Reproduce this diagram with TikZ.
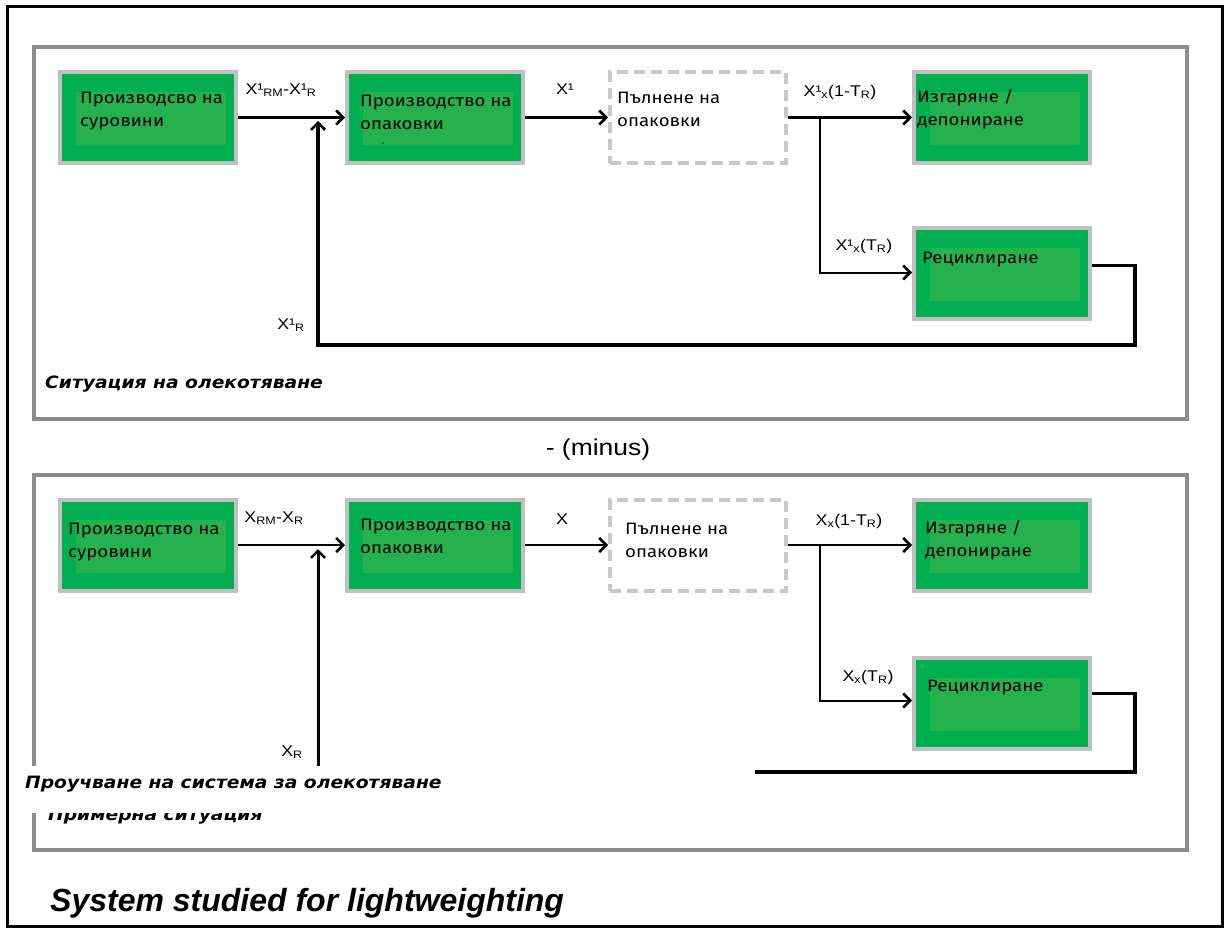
\documentclass[tikz,border=0pt]{standalone}
\usepackage{fontspec}
\setmainfont{Liberation Sans}
\newfontfamily\boxfont[FakeStretch=1.13]{Fira Sans}
\newfontfamily\lblfont[FakeStretch=1.15]{Liberation Sans}
\newfontfamily\capfont[FakeStretch=1.1]{DejaVu Sans}
\usetikzlibrary{arrows.meta}
\definecolor{gfill}{HTML}{00B050}
\definecolor{ginner}{HTML}{24B14E}
\definecolor{boxgray}{HTML}{C0C0C0}
\definecolor{dashgray}{HTML}{C8C8C8}
\definecolor{panelgray}{HTML}{8C8C8C}
\tikzset{
  gbox/.style={draw=boxgray, line width=4pt, fill=gfill, minimum width=176pt, minimum height=91pt, inner sep=0pt},
  dbox/.style={draw=dashgray, line width=4pt, fill=white, dash pattern=on 11pt off 6pt, minimum width=176pt, minimum height=91pt, inner sep=0pt},
  panel/.style={draw=panelgray, line width=4pt},
  btxt/.style={font=\boxfont\fontsize{16.5}{23}\selectfont, align=left, anchor=north west, inner sep=0pt},
  lbl/.style={font=\lblfont\fontsize{15.5}{17}\selectfont, inner sep=0pt},
  captxt/.style={font=\capfont\bfseries\itshape\fontsize{17}{20}\selectfont, inner sep=0pt, anchor=base west},
  arr/.style={line width=2.6pt, -{Straight Barb[length=7pt,width=14pt,line width=2.6pt]}},
  thinarr/.style={line width=2pt, -{Straight Barb[length=7pt,width=14pt,line width=2.6pt]}},
  fb/.style={line width=3.5pt},
}
\newcommand{\innerfill}[1]{\fill[ginner] ([xshift=18pt,yshift=-22pt]#1.north west) rectangle ([xshift=-12pt,yshift=20pt]#1.south east);}
\begin{document}
\begin{tikzpicture}[x=1pt,y=-1pt]
\fill[white] (0,0) rectangle (1225,928);
\useasboundingbox (0,0) rectangle (1225,928);
\draw[line width=3pt] (7,7) rectangle (1222,926);

% ---------- top panel ----------
\draw[panel] (34,47) rectangle (1187,419);
\node[gbox] (a1) at (148,117.5) {};
\node[gbox] (b1) at (435,117.5) {};
\node[dbox] (c1) at (698,117.5) {};
\node[gbox] (d1) at (1002,117.5) {};
\node[gbox] (e1) at (1002,273.5) {};
\innerfill{a1}\innerfill{b1}\innerfill{d1}\innerfill{e1}
\node[btxt] (a1t) at (80,92) {Производсво на\\суровини};
\node[btxt] (b1t) at (360,95) {Производство на\\опаковки};
\node[inner sep=0pt, font=\fontsize{12}{12}\selectfont] (b1dot) at (383,144) {.};
\node[btxt] (c1t) at (617,92) {Пълнене на\\опаковки};
\node[btxt] (d1t) at (917,89) {Изгаряне /\\депониране};
\node[btxt] (e1t) at (922,252) {Рециклиране};

\coordinate (s1) at (820,117.5);
\coordinate (k1) at (1135,345);
\coordinate (j1) at (318,345);
\coordinate (m1) at (318,121);
\draw[arr] (a1) -- (b1);
\draw[arr] (b1) -- (c1);
\draw[arr] (c1) -- (d1);
\draw[thinarr] (s1) |- ([yshift=1pt]e1.west);
\draw[fb, -{Straight Barb[length=7pt,width=14pt,line width=2.6pt]}] ([yshift=8pt]e1.east) -| (k1) -- (j1) -- (m1);

\node[lbl] (l1) at (281,90) {X¹\textsubscript{RM}-X¹\textsubscript{R}};
\node[lbl] (l2) at (565,89) {X¹};
\node[lbl] (l3) at (840,92) {X¹\textsubscript{x}(1-T\textsubscript{R})};
\node[lbl] (l4) at (864,246) {X¹\textsubscript{x}(T\textsubscript{R})};
\node[lbl] (l5) at (291,325) {X¹\textsubscript{R}};
\node[captxt] (cap1) at (45,388) {Ситуация на олекотяване};

\node[font=\lblfont\fontsize{23}{25}\selectfont, inner sep=0pt] (minus) at (598,450) {- (minus)};

% ---------- bottom panel ----------
\draw[panel] (34,475) rectangle (1187,850);
\node[gbox] (a2) at (148,545) {};
\node[gbox] (b2) at (435,545) {};
\node[dbox] (c2) at (698,545) {};
\node[gbox] (d2) at (1002,545) {};
\node[gbox] (e2) at (1002,703.5) {};
\innerfill{a2}\innerfill{b2}\innerfill{d2}\innerfill{e2}
\node[btxt] (a2t) at (68,523) {Производство на\\суровини};
\node[btxt] (b2t) at (360,519) {Производство на\\опаковки};
\node[btxt] (c2t) at (625,523) {Пълнене на\\опаковки};
\node[btxt] (d2t) at (925,520) {Изгаряне /\\депониране};
\node[btxt] (e2t) at (927,680) {Рециклиране};

\coordinate (s2) at (820,545);
\coordinate (k2) at (1135,772);
\coordinate (f2) at (755,772);
\coordinate (q2) at (318,768);
\coordinate (m2) at (318,549);
\draw[arr] (a2) -- (b2);
\draw[arr] (b2) -- (c2);
\draw[arr] (c2) -- (d2);
\draw[thinarr] (s2) |- ([yshift=3pt]e2.west);
\draw[fb] ([yshift=10pt]e2.east) -| (k2) -- (f2);
\draw[line width=3pt, -{Straight Barb[length=7pt,width=14pt,line width=2.6pt]}] (q2) -- (m2);

\node[lbl] (l6) at (274,518) {X\textsubscript{RM}-X\textsubscript{R}};
\node[lbl] (l7) at (562,519) {X};
\node[lbl] (l8) at (849,521) {X\textsubscript{x}(1-T\textsubscript{R})};
\node[lbl] (l9) at (868,677) {X\textsubscript{x}(T\textsubscript{R})};
\node[lbl] (l10) at (292,752) {X\textsubscript{R}};

\node[captxt] (cap2b) at (48,820) {Примерна ситуация};
\fill[white] (20,766) rectangle (450,812.5);
\node[captxt] (cap2) at (25,788) {Проучване на система за олекотяване};

\node[font=\bfseries\itshape\fontsize{32}{34}\selectfont, inner sep=0pt, anchor=base west] (title) at (50,911) {System studied for lightweighting};
\end{tikzpicture}
\end{document}
